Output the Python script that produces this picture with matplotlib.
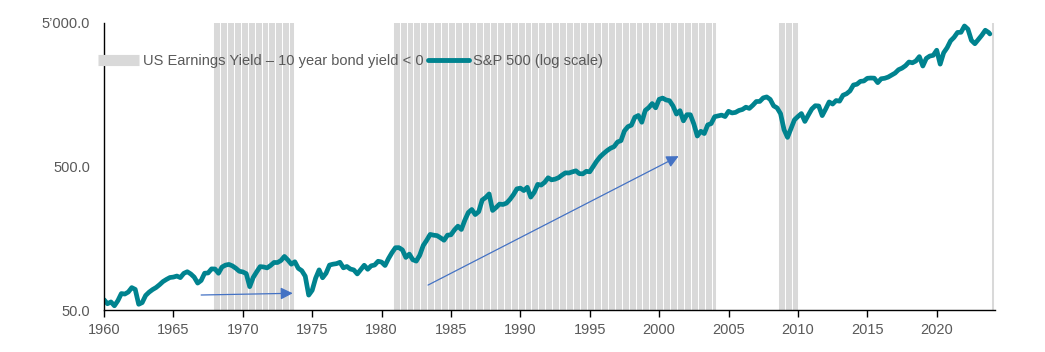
import numpy as np
import matplotlib
matplotlib.use("Agg")
import matplotlib.pyplot as plt
from matplotlib.lines import Line2D
from matplotlib.ticker import FixedLocator, FuncFormatter

plt.rcParams['font.family'] = ['Liberation Sans', 'DejaVu Sans']

# S&P 500, quarter-end levels (1960 Q1 .. 2023 Q3)
sp500_quarterly = [
    55.3, 56.9, 53.5, 58.1,      # 1960
    65.1, 64.6, 66.7, 71.6,      # 1961
    69.6, 54.8, 56.3, 63.1,      # 1962
    66.6, 69.4, 71.7, 75.0,      # 1963
    78.9, 81.7, 84.2, 84.8,      # 1964
    86.2, 84.1, 90.0, 92.4,      # 1965
    89.2, 84.7, 77.0, 80.3,      # 1966
    90.2, 90.6, 96.7, 96.5,      # 1967
    90.2, 99.6, 102.7, 103.9,    # 1968
    101.5, 97.7, 93.1, 92.1,     # 1969
    89.6, 72.7, 84.3, 92.2,      # 1970
    100.3, 99.7, 98.3, 102.1,    # 1971
    107.2, 107.1, 110.6, 118.1,  # 1972
    111.5, 104.3, 108.4, 97.6,   # 1973
    94.0, 86.0, 63.5, 68.6,      # 1974
    83.4, 95.2, 83.9, 90.2,      # 1975
    102.8, 104.3, 105.2, 107.5,  # 1976
    98.4, 100.5, 96.5, 95.1,     # 1977
    89.2, 95.5, 102.5, 96.1,     # 1978
    101.6, 102.9, 109.3, 107.9,  # 1979
    102.1, 114.2, 125.5, 135.8,  # 1980
    136.0, 131.2, 116.2, 122.6,  # 1981
    112.0, 109.6, 120.4, 140.6,  # 1982
    153.0, 168.1, 166.1, 164.9,  # 1983
    159.2, 153.2, 166.1, 167.2,  # 1984
    180.7, 191.9, 182.1, 211.3,  # 1985
    238.9, 250.8, 231.3, 242.2,  # 1986
    291.7, 304.0, 321.8, 247.1,  # 1987
    258.9, 273.5, 271.9, 277.7,  # 1988
    294.9, 318.0, 349.2, 353.4,  # 1989
    339.9, 358.0, 306.1, 330.2,  # 1990
    375.2, 371.2, 387.9, 417.1,  # 1991
    403.7, 408.1, 417.8, 435.7,  # 1992
    451.7, 450.5, 458.9, 466.5,  # 1993
    445.8, 444.3, 462.7, 459.3,  # 1994
    500.7, 544.8, 584.4, 615.9,  # 1995
    645.5, 670.6, 687.3, 740.7,  # 1996
    757.1, 885.1, 947.3, 970.4,  # 1997
    1101.8, 1133.8, 1017.0, 1229.2,  # 1998
    1286.4, 1372.7, 1282.7, 1469.3,  # 1999
    1498.6, 1454.6, 1436.5, 1320.3,  # 2000
    1160.3, 1224.4, 1040.9, 1148.1,  # 2001
    1147.4, 989.8, 815.3, 879.8,     # 2002
    848.2, 974.5, 996.0, 1111.9,     # 2003
    1126.2, 1140.8, 1114.6, 1211.9,  # 2004
    1180.6, 1191.3, 1228.8, 1248.3,  # 2005
    1294.9, 1270.2, 1335.9, 1418.3,  # 2006
    1420.9, 1503.4, 1526.8, 1468.4,  # 2007
    1322.7, 1280.0, 1166.4, 903.3,   # 2008
    797.9, 919.3, 1057.1, 1115.1,    # 2009
    1169.4, 1030.7, 1141.2, 1257.6,  # 2010
    1325.8, 1320.6, 1131.4, 1257.6,  # 2011
    1408.5, 1362.2, 1440.7, 1426.2,  # 2012
    1569.2, 1606.3, 1681.6, 1848.4,  # 2013
    1872.3, 1960.2, 1972.3, 2058.9,  # 2014
    2067.9, 2063.1, 1920.0, 2043.9,  # 2015
    2059.7, 2098.9, 2168.3, 2238.8,  # 2016
    2362.7, 2423.4, 2519.4, 2673.6,  # 2017
    2640.9, 2718.4, 2914.0, 2506.9,  # 2018
    2834.4, 2941.8, 2976.7, 3230.8,  # 2019
    2584.6, 3100.3, 3363.0, 3756.1,  # 2020
    3972.9, 4297.5, 4307.5, 4766.2,  # 2021
    4530.4, 3785.4, 3585.6, 3839.5,  # 2022
    4109.3, 4450.4, 4288.1,          # 2023
]
sp500_start = 59.0     # level at start of 1960
sp500_last = 4194.0    # last point, Oct 2023
sp500_last_date = 2023.83

# periods where earnings yield - 10y bond yield < 0 (decimal years)
band_start = [1967.85, 1980.8, 2008.6, 2023.9]
band_end = [1973.7, 2004.1, 2010.0, 2024.15]

# arrows (decimal year, index level)
arrow1 = ((1967.0, 63.6), (1973.6, 65.4))
arrow2 = ((1983.35, 74.6), (2001.4, 590.0))

x_ticks = list(range(1960, 2021, 5))
y_ticks = [50, 500, 5000]

teal = '#00838F'
band_grey = '#D9D9D9'
text_grey = '#595959'
arrow_blue = '#4472C4'

dates = [1960.0] + [1960 + 0.25 * (i + 1) for i in range(len(sp500_quarterly))] + [sp500_last_date]
values = [sp500_start] + sp500_quarterly + [sp500_last]

fig = plt.figure(figsize=(10.45, 3.52), dpi=100)
ax = fig.add_axes([104 / 1045, 42 / 352, 891 / 1045, 287 / 352])

# grey bands as half-year bars
for s, e in zip(band_start, band_end):
    lefts = np.arange(s, e, 0.5)
    widths = np.minimum(0.5, e - lefts)
    ax.bar(lefts, 5000, width=widths, bottom=50, align='edge',
           color=band_grey, edgecolor='white', linewidth=0.7, zorder=1)

ax.plot(dates, values, color=teal, lw=3.4, solid_capstyle='round',
        solid_joinstyle='round', zorder=3)

for (x0, y0), (x1, y1) in (arrow1, arrow2):
    ax.annotate('', xy=(x1, y1), xytext=(x0, y0),
                arrowprops=dict(arrowstyle='-|>', color=arrow_blue, lw=0.9,
                                mutation_scale=18, shrinkA=0, shrinkB=0),
                zorder=4)

ax.set_yscale('log')
ax.set_ylim(50, 5000)
ax.set_xlim(1960, 2024.2)

ax.xaxis.set_major_locator(FixedLocator(x_ticks))
ax.xaxis.set_minor_locator(FixedLocator([]))
ax.yaxis.set_major_locator(FixedLocator(y_ticks))
ax.yaxis.set_minor_locator(FixedLocator([]))
ax.yaxis.set_major_formatter(FuncFormatter(
    lambda v, p: f"{v:,.1f}".replace(',', '\u2019')))

for side in ('top', 'right'):
    ax.spines[side].set_visible(False)
for side in ('left', 'bottom'):
    ax.spines[side].set_color('black')
    ax.spines[side].set_linewidth(1.0)
    ax.spines[side].set_zorder(5)

ax.tick_params(axis='x', length=5, width=1, direction='out', colors='black',
               labelcolor=text_grey, labelsize=10.5, pad=4)
ax.tick_params(axis='y', length=0, labelcolor=text_grey, labelsize=10.5, pad=10)

handles = [Line2D([], [], color=band_grey, lw=8, solid_capstyle='butt'),
           Line2D([], [], color=teal, lw=3.5, solid_capstyle='round')]
labels = ['US Earnings Yield \u2013 10 year bond yield < 0', 'S&P 500 (log scale)']
fig.legend(handles, labels, loc='center left', bbox_to_anchor=(98 / 1045, 1 - 61 / 352),
           ncol=2, frameon=False, fontsize=10.5, labelcolor=text_grey,
           handlelength=2.8, handletextpad=0.3, columnspacing=0.3,
           borderpad=0, borderaxespad=0)

fig.savefig('out.png', dpi=100)
